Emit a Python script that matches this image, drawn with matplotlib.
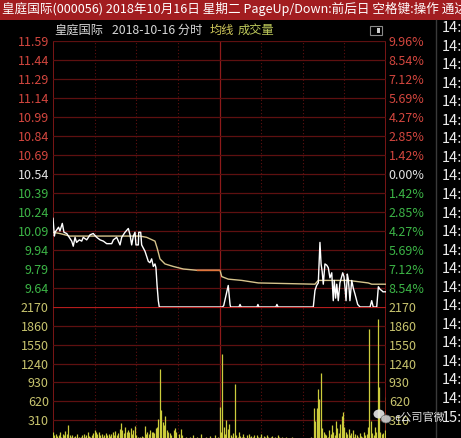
import numpy as np
import matplotlib
matplotlib.use('Agg')
import matplotlib.pyplot as plt
from matplotlib.patches import Rectangle, Ellipse

plt.rcParams['font.family'] = ['Noto Sans CJK SC', 'DejaVu Sans']

# 分时 price line (minute, price)
price_min = [0, 1, 1.5, 4, 5, 6.7, 7.9, 9.9, 13.5, 14.6, 15.9, 17, 19, 20.7, 21.8, 24.3, 26.7, 29, 31.5,
             33.9, 36.3, 38.7, 42.3, 43.5, 45.9, 48.3, 49.5, 51.9, 54.3, 55.5, 56.7, 57.9, 59.1, 59.8,
             61.5, 61.8, 63.2, 63.9, 66.3, 67.5, 68.7, 69.9, 71.1, 72.3, 73.5, 74.2, 75, 75.9, 76.6,
             122, 123, 126.3, 127.6, 128, 134, 134.8, 135.6, 147, 147.7, 148.4, 160.6, 161.4, 162.2,
             187.6, 188.8, 190, 191.2, 192.4, 193.2, 194, 194.8, 196, 197.3, 198.4, 199.6, 200.9, 202,
             202.7, 203.7, 204.5, 205.6, 206.8, 208.8, 209.7, 210.5, 211.2, 212.1, 212.8, 213.5, 214,
             215.3, 216.4, 217.7, 219.6, 221.3, 228.5, 229.7, 230.8, 233.3, 234.5, 235.7, 236.9, 237.8,
             239.3, 240]
price_val = [10.19, 10.05, 10.08, 10.12, 10.09, 10.15, 10.08, 10.07, 10.01, 9.97, 10.04, 10.00, 10.02, 10.01,
             10.04, 10.02, 10.06, 10.07, 10.04, 10.02, 10.01, 9.99, 9.99, 10.02, 10.04, 9.98, 10.04, 10.08,
             10.11, 10.06, 9.98, 10.05, 10.08, 9.98, 9.98, 10.08, 10.08, 9.98, 9.93, 9.89, 9.85, 9.84, 9.87,
             9.81, 9.83, 9.80, 9.66, 9.54, 9.49,
             9.49, 9.50, 9.66, 9.51, 9.49, 9.49, 9.51, 9.49, 9.49, 9.51, 9.49, 9.49, 9.51, 9.49,
             9.49, 9.62, 9.66, 9.68, 10.00, 9.83, 9.77, 9.67, 9.83, 9.82, 9.80, 9.72, 9.76, 9.54,
             9.70, 9.56, 9.67, 9.54, 9.68, 9.76, 9.73, 9.64, 9.54, 9.75, 9.71, 9.62, 9.54,
             9.70, 9.64, 9.59, 9.51, 9.49, 9.49, 9.54, 9.49, 9.49, 9.65, 9.63, 9.62, 9.61,
             9.61, 9.61]

# 均线
avg_min = [0, 5, 12, 34, 62.7, 67.5, 73.5, 75.2, 77.1, 80.7, 86.7, 93.9, 103.6, 120.4, 121.6, 126.3,
           136, 148, 188.8, 191.2, 196, 212.8, 227.2, 229.7, 239.3, 240]
avg_val = [10.08, 10.07, 10.05, 10.05, 10.05, 10.04, 10.01, 9.95, 9.87, 9.83, 9.81, 9.79, 9.78, 9.78, 9.73,
           9.71, 9.70, 9.68, 9.67, 9.70, 9.70, 9.70, 9.68, 9.67, 9.67, 9.67]

# 成交量, one value per minute 0..240
volume = ([120, 60, 90, 50, 70, 110, 40, 80, 60, 130,
           90, 228, 60, 40, 70, 30, 50, 80, 20, 40,
           30, 60, 90, 40, 70, 120, 50, 30, 60, 100,
           150, 120, 80, 110, 60, 90, 40, 70, 100, 60,
           80, 50, 90, 120, 70, 130, 60, 100, 160, 260,
           140, 100, 200, 120, 150, 110, 180, 90, 140, 220,
           60, 30, 20, 40, 50, 40, 212, 80, 120, 90,
           150, 120, 110, 100, 180, 200, 325, 1150, 470, 280,
           228, 375, 150, 120, 100, 60, 0, 140, 180, 120,
           0, 90, 160, 60, 0, 0, 40, 0, 0, 30,
           0, 60, 0, 0, 40, 0, 0, 80, 0, 0,
           30, 0, 0, 50, 0, 0, 0, 60, 0, 40,
           525, 120, 1400, 200, 80, 310, 160, 245, 60, 40,
           100, 900, 60, 40, 120, 50, 30, 80, 40, 20,
           60, 90, 30, 50, 40, 70, 20, 60, 30, 40,
           80, 20, 50, 30, 60, 40, 20, 30, 50, 0,
           40, 20, 60, 30, 0, 40, 20, 0, 30, 0,
           20, 0, 40, 0, 0, 0, 0, 0, 20, 0,
           0, 0, 0, 0, 0, 0, 30, 0, 505, 300,
           505, 815, 650, 1087, 180, 120, 80, 60, 40, 140,
           80, 230, 120, 60, 300, 180, 100, 250, 380, 445,
           200, 120, 90, 160, 60, 100, 140, 40, 80, 60,
           30, 100, 50, 40, 120, 60, 80, 200, 1810, 300,
           100, 60, 200, 120, 1970, 850, 120, 80, 100, 150,
           690])

price_ticks = [11.59, 11.44, 11.29, 11.14, 10.99, 10.84, 10.69, 10.54, 10.39, 10.24, 10.09, 9.94, 9.79, 9.64]
pct_labels = ['9.96%', '8.54%', '7.12%', '5.69%', '4.27%', '2.85%', '1.42%', '0.00%',
              '1.42%', '2.85%', '4.27%', '5.69%', '7.12%', '8.54%']
vol_ticks = [2170, 1860, 1550, 1240, 930, 620, 310]
time_labels = ['14:'] * 21 + ['15:']

W, H = 461, 438
fig = plt.figure(figsize=(W / 100, H / 100), dpi=100, facecolor='black')

def fx(px):
    return px / W

def fy(py):
    return 1 - py / H

grid_c = '#5e1010'
border_c = '#8e1a1a'
red_c = '#d2463e'
green_c = '#3cb446'
white_c = '#e4e4e4'
yel_c = '#c8c46e'

left, right = 53, 386
ax = fig.add_axes([fx(left), fy(307), fx(right - left), (307 - 41) / H])
axv = fig.add_axes([fx(left), fy(439), fx(right - left), (439 - 307) / H])

for a in (ax, axv):
    a.set_facecolor('black')
    a.set_xlim(0, 240)
    for s in a.spines.values():
        s.set_visible(False)
    a.set_xticks([])
    a.tick_params(axis='y', length=0, labelsize=9)
    for m in [30, 60, 90, 150, 180, 210]:
        a.axvline(m, color=grid_c, lw=0.8, ls=(0, (1, 2)), zorder=0)
    a.axvline(120, color=border_c, lw=0.9, zorder=0)
    a.axvline(0, color=border_c, lw=1.2, zorder=0)
    a.axvline(240, color=border_c, lw=1.2, zorder=0)

ax.set_ylim(9.49, 11.59)
axv.set_ylim(0, 2170)

for p in price_ticks:
    ax.axhline(p, color=grid_c, lw=0.9, zorder=0)
for v in vol_ticks[1:]:
    axv.axhline(v, color=grid_c, lw=0.9, zorder=0)
axv.axhline(2170, color='#b41c1c', lw=1.6, zorder=1)

# left labels
ax.set_yticks(price_ticks)
ax.set_yticklabels(['%.2f' % p for p in price_ticks])
ax.tick_params(axis='y', pad=3)
for lab, p in zip(ax.get_yticklabels(), price_ticks):
    lab.set_color(red_c if p > 10.54 else (white_c if p == 10.54 else green_c))
axv.set_yticks(vol_ticks)
axv.set_yticklabels([str(v) for v in vol_ticks], color=yel_c)
axv.tick_params(axis='y', pad=3)

# right labels
ax2 = ax.twinx()
ax2.set_ylim(ax.get_ylim())
ax2.set_yticks(price_ticks)
ax2.set_yticklabels(pct_labels)
ax2.tick_params(axis='y', length=0, labelsize=9, pad=2)
for s in ax2.spines.values():
    s.set_visible(False)
for lab, p in zip(ax2.get_yticklabels(), price_ticks):
    lab.set_color(red_c if p > 10.54 else (white_c if p == 10.54 else green_c))
axv2 = axv.twinx()
axv2.set_ylim(axv.get_ylim())
axv2.set_yticks(vol_ticks)
axv2.set_yticklabels([str(v) for v in vol_ticks], color=yel_c)
axv2.tick_params(axis='y', length=0, labelsize=9, pad=2)
for s in axv2.spines.values():
    s.set_visible(False)

# lines
ax.plot(avg_min, avg_val, color='#d6c48c', lw=1.0, zorder=3)
seg = [i for i, m in enumerate(avg_min) if 103 <= m <= 121]
ax.plot([avg_min[i] for i in seg], [avg_val[i] for i in seg], color='#e0743a', lw=1.0, zorder=3)
ax.plot(price_min, price_val, color='white', lw=1.0, zorder=4)

minutes = np.arange(len(volume))
axv.vlines(minutes, 0, volume, color='#cccc3c', lw=0.9, zorder=3)

# title bar
fig.patches.append(Rectangle((0, fy(20)), 1, 20 / H, transform=fig.transFigure,
                             facecolor='#a21d20', edgecolor='none', zorder=0))
fig.text(fx(2), fy(9), '皇庭国际(000056) 2018年10月16日 星期二 PageUp/Down:前后日 空格键:操作 通达信',
         color='white', fontsize=9.05, va='center', ha='left')

# header row
fig.text(fx(54), fy(30), '皇庭国际', color='#d8d8d8', fontsize=8.8, va='center')
fig.text(fx(112), fy(30), '2018-10-16 分时', color='#d8d8d8', fontsize=8.8, va='center')
fig.text(fx(210), fy(30), '均线', color='#d0c85a', fontsize=8.8, va='center')
fig.text(fx(238), fy(30), '成交量', color='#bcc85a', fontsize=8.8, va='center')
fig.patches.append(Rectangle((fx(370), fy(35)), fx(12), 9 / H, transform=fig.transFigure,
                             facecolor='black', edgecolor='#8a8a8a', lw=0.8))
fig.patches.append(Rectangle((fx(377), fy(33)), fx(3), 5 / H, transform=fig.transFigure,
                             facecolor='#cccccc', edgecolor='none'))

# right panel
fig.lines.append(plt.Line2D([fx(436), fx(436)], [0, fy(20)], transform=fig.transFigure,
                            color='#3a3a3a', lw=1))
for k, t in enumerate(time_labels):
    fig.text(fx(442), fy(28 + 18.55 * k), t, color='#ececec', fontsize=10.5, va='center', ha='left')

# watermark
fig.patches.append(Ellipse((fx(379), fy(414)), fx(11), 9 / H, transform=fig.transFigure,
                           facecolor='#e8e8e8', edgecolor='none', alpha=0.9))
fig.patches.append(Ellipse((fx(386), fy(419)), fx(10), 8 / H, transform=fig.transFigure,
                           facecolor='#d0d0d0', edgecolor='#666666', lw=0.5, alpha=0.9))
fig.text(fx(394), fy(418), 'e公司官微', color='#e0e0e0', fontsize=8, va='center', ha='left')

plt.savefig('out.png', dpi=100, facecolor='black')
